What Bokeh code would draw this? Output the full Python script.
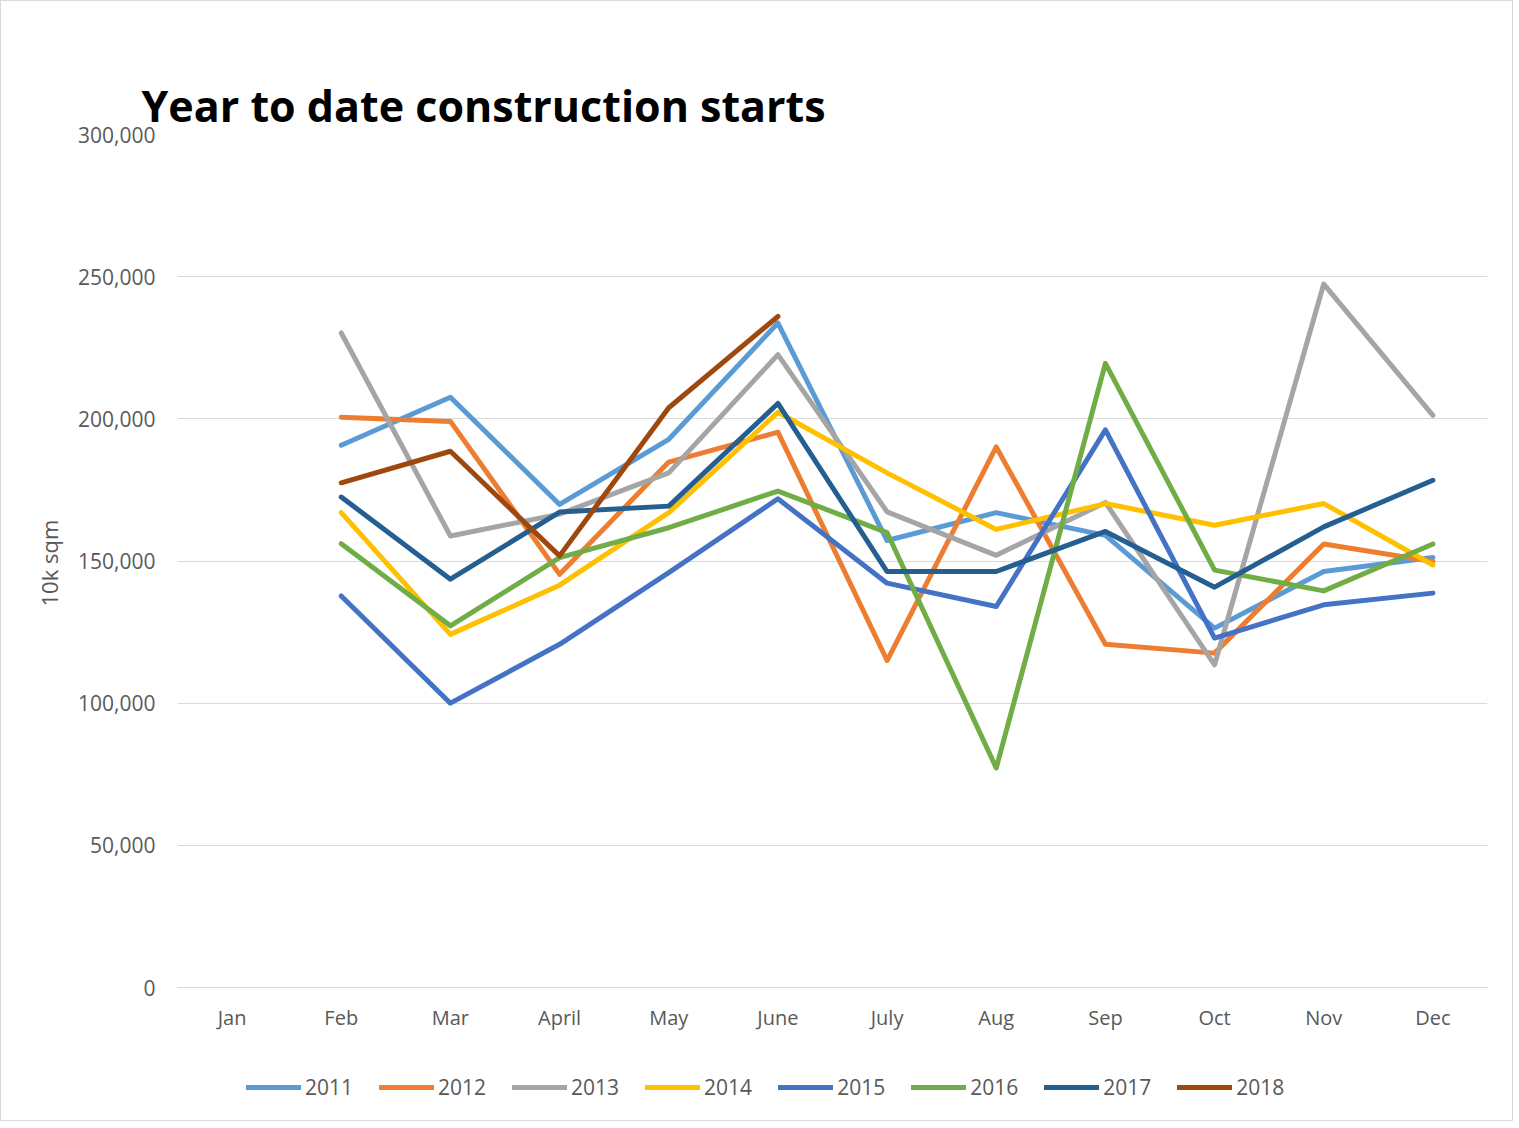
from bokeh.plotting import figure
from bokeh.models import FactorRange, Range1d, FixedTicker, NumeralTickFormatter, Legend, Title
from bokeh.embed import file_html
from bokeh.resources import INLINE
import math

months = ["Jan", "Feb", "Mar", "April", "May", "June", "July", "Aug", "Sep", "Oct", "Nov", "Dec"]
NA = float("nan")

s2011 = [NA, 190700, 207600, 169900, 192800, 233700, 157200, 167000, 159000, 126400, 146300, 151200]
s2012 = [NA, 200600, 199100, 145300, 184800, 195300, 115000, 190100, 120700, 117600, 156000, 149800]
s2013 = [NA, 230200, 158800, 166500, 181000, 222600, 167300, 152000, 170600, 113500, 247400, 201200]
s2014 = [NA, 167000, 124200, 141500, 167000, 202300, 181000, 161100, 170200, 162600, 170200, 148600]
s2015 = [NA, 137700, 100000, 120700, 145900, 171900, 142200, 134000, 196100, 122900, 134600, 138700]
s2016 = [NA, 156100, 127200, 151200, 161700, 174600, 160000, 77200, 219500, 146800, 139500, 156000]
s2017 = [NA, 172500, 143600, 167200, 169300, 205400, 146300, 146300, 160400, 140800, 162000, 178400]
s2018 = [NA, 177500, 188600, 151800, 203900, 236000, NA, NA, NA, NA, NA, NA]

series_names = ["2011", "2012", "2013", "2014", "2015", "2016", "2017", "2018"]
series_values = [s2011, s2012, s2013, s2014, s2015, s2016, s2017, s2018]
colors = ["#5B9BD5", "#ED7D31", "#A5A5A5", "#FFC000", "#4472C4", "#70AD47", "#255E91", "#9E480E"]

y_ticks = [0, 50000, 100000, 150000, 200000, 250000, 300000]

FONT = "Open Sans"
GRAY = "#595959"

# frame extends below the zero line to make room for the legend
Y_BOTTOM = -41500

p = figure(
    width=1513, height=1121,
    x_range=FactorRange(factors=months),
    y_range=Range1d(Y_BOTTOM, 300000),
    output_backend="svg", toolbar_location=None,
    min_border_left=176, min_border_right=27,
    min_border_top=133, min_border_bottom=17,
    background_fill_color="white", border_fill_color="white",
    styles={"border": "1px solid #D9D9D9"},
)
p.outline_line_color = None

items = []
for name, vals, col in zip(series_names, series_values, colors):
    xs = [m for m, v in zip(months, vals) if not math.isnan(v)]
    ys = [v for v in vals if not math.isnan(v)]
    r = p.line(xs, ys, line_color=col, line_width=5, line_join="round", line_cap="round")
    items.append((name, [r]))

# main title (outer slot)
p.title.text = "Year to date construction starts"
p.title.text_font = FONT
p.title.text_font_style = "bold"
p.title.text_font_size = "43px"
p.title.text_color = "black"
p.title.align = "left"
p.title.offset = -36
p.title.standoff = 0

# invisible spacer between plot area and title (sits next to the plot area)
spacer = Title(text=" ", text_font_size="1px", text_alpha=0, standoff=42)
p.add_layout(spacer, "above")

# axes
p.yaxis.ticker = FixedTicker(ticks=y_ticks)
p.yaxis.formatter = NumeralTickFormatter(format="0,0")
p.yaxis.axis_line_color = None
p.yaxis.major_tick_line_color = None
p.yaxis.minor_tick_line_color = None
p.yaxis.major_label_text_font = FONT
p.yaxis.major_label_text_font_size = "21px"
p.yaxis.major_label_text_color = GRAY
p.yaxis.major_label_standoff = 16

ylab = Title(text="10k sqm", align="left", offset=499, standoff=24,
             text_font=FONT, text_font_size="22px", text_font_style="normal",
             text_color=GRAY)
p.add_layout(ylab, "left")

p.xaxis.fixed_location = 0
p.xaxis.axis_line_color = "#D9D9D9"
p.xaxis.major_tick_line_color = None
p.xaxis.minor_tick_line_color = None
p.xaxis.major_label_text_font = FONT
p.xaxis.major_label_text_font_size = "20px"
p.xaxis.major_label_text_color = GRAY
p.xaxis.major_label_standoff = 10

p.xgrid.grid_line_color = None
p.ygrid.grid_line_color = "#D9D9D9"
p.ygrid.grid_line_width = 1

# legend
lg = Legend(items=items, orientation="horizontal", location=(69, 4))
lg.border_line_color = None
lg.background_fill_alpha = 0
lg.padding = 0
lg.margin = 0
lg.spacing = 26
lg.glyph_width = 55
lg.glyph_height = 20
lg.label_standoff = 4
lg.label_text_font = FONT
lg.label_text_font_size = "21px"
lg.label_text_color = GRAY
lg.label_height = 20
p.add_layout(lg)

open("out.html", "w").write(file_html(p, INLINE))
